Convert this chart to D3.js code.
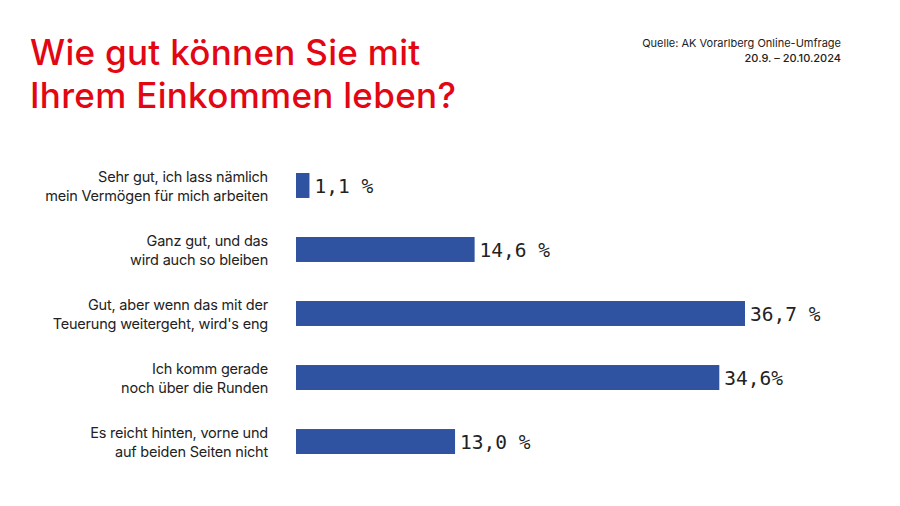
<!DOCTYPE html>
<html><head><meta charset="utf-8">
<script src="https://cdn.jsdelivr.net/npm/d3@7"></script>
<style>
html,body{margin:0;padding:0;background:#fff;}
svg{display:block;}
</style></head>
<body>
<svg id="chart" width="900" height="506"></svg>
<script>
const titleLines = ["Wie gut können Sie mit", "Ihrem Einkommen leben?"];
const sourceLines = ["Quelle: AK Vorarlberg Online-Umfrage", "20.9. – 20.10.2024"];
const categories = [
  ["Sehr gut, ich lass nämlich", "mein Vermögen für mich arbeiten"],
  ["Ganz gut, und das", "wird auch so bleiben"],
  ["Gut, aber wenn das mit der", "Teuerung weitergeht, wird's eng"],
  ["Ich komm gerade", "noch über die Runden"],
  ["Es reicht hinten, vorne und", "auf beiden Seiten nicht"]
];
const values = [1.1, 14.6, 36.7, 34.6, 13.0];
const valueLabels = ["1,1 %", "14,6 %", "36,7 %", "34,6%", "13,0 %"];

const svg = d3.select("#chart");
const red = "#e30613", blue = "#2f53a0";

// title
svg.append("g").selectAll("text").data(titleLines).join("text")
  .attr("x", 30).attr("y", (d,i)=>65 + i*42.5)
  .attr("fill", red).attr("font-family", "Inter, 'Noto Sans', sans-serif")
  .attr("font-weight", 500).attr("font-size", 35).attr("letter-spacing", 0.3)
  .text(d=>d);

// source
svg.append("g").selectAll("text").data(sourceLines).join("text")
  .attr("x", 841).attr("y", (d,i)=>46.5 + i*15.5)
  .attr("text-anchor", "end")
  .attr("fill", "#222").attr("font-family", "Inter, 'Noto Sans', sans-serif")
  .attr("font-weight", (d,i)=> i===1 ? 500 : 400).attr("font-size", 11)
  .text(d=>d);

const x = d3.scaleLinear().domain([0, 36.7]).range([296, 745]);
const y = d3.scaleBand().domain(d3.range(values.length)).range([173, 454]).paddingInner(0.61).paddingOuter(0);

const g = svg.append("g");
g.selectAll("rect").data(values).join("rect")
  .attr("x", x(0)).attr("y", (d,i)=>y(i))
  .attr("width", d=>x(d)-x(0)).attr("height", y.bandwidth())
  .attr("fill", blue);

g.selectAll("text.val").data(values).join("text").attr("class","val")
  .attr("x", d=>x(d)+5).attr("y", (d,i)=>y(i)+y.bandwidth()/2)
  .attr("dy", "0.38em")
  .attr("font-family", "'DejaVu Sans Mono', 'Liberation Mono', monospace")
  .attr("font-size", 19.5).attr("fill", "#222")
  .text((d,i)=>valueLabels[i]);

const lab = g.selectAll("text.cat").data(categories).join("text").attr("class","cat")
  .attr("text-anchor", "end")
  .attr("font-family", "Inter, 'Noto Sans', sans-serif")
  .attr("font-size", 14.5).attr("fill", "#222").attr("letter-spacing", -0.2);
lab.selectAll("tspan").data((d,i)=>d.map(t=>({t, i}))).join("tspan")
  .attr("x", 268)
  .attr("y", (d,j)=> y(d.i)+y.bandwidth()/2 + (j===0 ? -3.8 : 15.5))
  .text(d=>d.t);
</script>
</body></html>
